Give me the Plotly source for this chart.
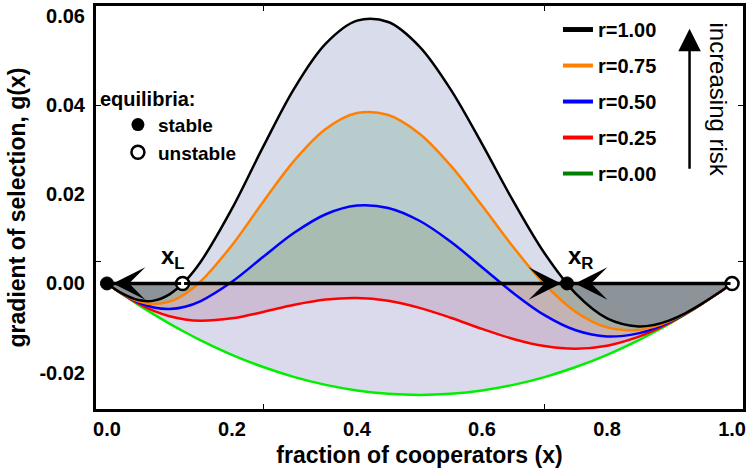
import plotly.graph_objects as go

# ---------------- data ----------------
x = [0.0, 0.025, 0.05, 0.075, 0.10, 0.125, 0.15, 0.20, 0.25, 0.30, 0.35, 0.40, 0.45, 0.50,
     0.55, 0.60, 0.65, 0.70, 0.75, 0.80, 0.85, 0.875, 0.90, 0.925, 0.95, 0.975, 1.0]

g_r100 = [0, -0.00230, -0.00373, -0.00385, -0.00244, 0.00051, 0.00487,
          0.01677, 0.03069, 0.04383, 0.05379, 0.05894, 0.05864, 0.05313, 0.04347, 0.03130,
          0.01846, 0.00678, -0.00227, -0.00781, -0.00964,
          -0.00930, -0.00827, -0.00669, -0.00470, -0.00243, 0]
g_r075 = [0, -0.00233, -0.00399, -0.00462, -0.00408, -0.00235, 0.00046,
          0.00858, 0.01833, 0.02762, 0.03465, 0.03821, 0.03779, 0.03359, 0.02642, 0.01747,
          0.00816, -0.00016, -0.00639, -0.00986, -0.01042,
          -0.00971, -0.00845, -0.00675, -0.00471, -0.00244, 0]
g_r050 = [0, -0.00237, -0.00424, -0.00539, -0.00572, -0.00521, -0.00394,
          0.00038, 0.00597, 0.01141, 0.01552, 0.01747, 0.01694, 0.01406, 0.00936, 0.00365,
          -0.00214, -0.00711, -0.01051, -0.01190, -0.01120,
          -0.01012, -0.00864, -0.00681, -0.00472, -0.00244, 0]
g_r025 = [0, -0.00240, -0.00450, -0.00617, -0.00736, -0.00808, -0.00835,
          -0.00781, -0.00639, -0.00479, -0.00362, -0.00326, -0.00390, -0.00547, -0.00769, -0.01018,
          -0.01245, -0.01405, -0.01463, -0.01395, -0.01197,
          -0.01053, -0.00882, -0.00688, -0.00474, -0.00244, 0]
g_r000 = [0, -0.00244, -0.00475, -0.00694, -0.00900, -0.01094, -0.01275,
          -0.01600, -0.01875, -0.02100, -0.02275, -0.02400, -0.02475, -0.02500, -0.02475, -0.02400,
          -0.02275, -0.02100, -0.01875, -0.01600, -0.01275,
          -0.01094, -0.00900, -0.00694, -0.00475, -0.00244, 0]

# zero crossings of each curve
cross_r100 = [0.121, 0.736]
cross_r075 = [0.146, 0.699]
cross_r050 = [0.196, 0.631]

risk_labels = ["r=1.00", "r=0.75", "r=0.50", "r=0.25", "r=0.00"]

x_left = 0.121    # x_L (unstable)
x_right = 0.736   # x_R (stable)
stable_x = [0.0, x_right]
unstable_x = [x_left, 1.0]

x_ticks = [0.0, 0.2, 0.4, 0.6, 0.8, 1.0]
x_ticktext = ["0.0", "0.2", "0.4", "0.6", "0.8", "1.0"]
y_ticks = [-0.02, 0.0, 0.02, 0.04, 0.06]
y_ticktext = ["-0.02", "0.00", "0.02", "0.04", "0.06"]

# ---------------- styles ----------------
curves = [
    # label, values, crossings, line colour, legend colour, fill above 0, fill below 0
    (risk_labels[0], g_r100, cross_r100, "#000000", "#000000", "rgb(216,220,235)", "rgb(140,148,153)"),
    (risk_labels[1], g_r075, cross_r075, "#ff8000", "#ff8000", "rgb(185,204,205)", "rgb(168,173,164)"),
    (risk_labels[2], g_r050, cross_r050, "#0000ff", "#0000ff", "rgb(168,188,178)", "rgb(196,178,180)"),
    (risk_labels[3], g_r025, [], "#ff0000", "#ff0000", None, "rgb(204,188,212)"),
    (risk_labels[4], g_r000, [], "#00ee00", "#008000", None, "rgb(218,218,236)"),
]


def half(xs, ys, cross, positive):
    pts = sorted(list(zip(xs, ys)) + [(c, 0.0) for c in cross])
    hx = [p[0] for p in pts]
    hy = [max(p[1], 0.0) if positive else min(p[1], 0.0) for p in pts]
    return hx, hy


fig = go.Figure()

# fills above zero: highest curve first
for lab, ys, cr, lc, lgc, fpos, fneg in curves:
    if fpos is None:
        continue
    hx, hy = half(x, ys, cr, True)
    fig.add_trace(go.Scatter(x=hx, y=hy, mode="lines", line=dict(width=0, shape="spline"),
                             fill="tozeroy", fillcolor=fpos, showlegend=False, hoverinfo="skip"))
# fills below zero: lowest curve first
for lab, ys, cr, lc, lgc, fpos, fneg in reversed(curves):
    hx, hy = half(x, ys, cr, False)
    fig.add_trace(go.Scatter(x=hx, y=hy, mode="lines", line=dict(width=0, shape="spline"),
                             fill="tozeroy", fillcolor=fneg, showlegend=False, hoverinfo="skip"))

# curves
for lab, ys, cr, lc, lgc, fpos, fneg in reversed(curves):
    fig.add_trace(go.Scatter(x=x, y=ys, mode="lines", name=lab,
                             line=dict(color=lc, width=2.5, shape="spline"), showlegend=False))

# zero line
fig.add_trace(go.Scatter(x=[x[0], x[-1]], y=[0, 0], mode="lines",
                         line=dict(color="black", width=3.5), showlegend=False, hoverinfo="skip"))

# equilibria markers
fig.add_trace(go.Scatter(x=stable_x, y=[0] * len(stable_x), mode="markers", name="stable",
                         marker=dict(size=13, color="black", line=dict(color="black", width=1)),
                         showlegend=False))
fig.add_trace(go.Scatter(x=unstable_x, y=[0] * len(unstable_x), mode="markers", name="unstable",
                         marker=dict(size=13, color="white", line=dict(color="black", width=2.5)),
                         showlegend=False))

# legend entries (risk)
for i, (lab, ys, cr, lc, lgc, fpos, fneg) in enumerate(curves):
    fig.add_trace(go.Scatter(x=[None], y=[None], mode="lines", name=lab, legendgroup=lab,
                             line=dict(color=lgc, width=5 if i == 0 else 4), showlegend=True,
                             legend="legend"))
# legend entries (equilibria)
fig.add_trace(go.Scatter(x=[None], y=[None], mode="markers", name="stable", legend="legend2",
                         marker=dict(size=13, color="black"), showlegend=True))
fig.add_trace(go.Scatter(x=[None], y=[None], mode="markers", name="unstable", legend="legend2",
                         marker=dict(size=13, color="white", line=dict(color="black", width=2.5)),
                         showlegend=True))

bold = dict(family="Liberation Sans, Arial, sans-serif", color="black", weight="bold")

annotations = []
# dynamics arrows along x axis
for tip, tail, so in [(stable_x[0], x_left, 6), (x_right, x_left, 6), (x_right, unstable_x[1], 8)]:
    annotations.append(dict(x=tip, y=0, ax=tail, ay=0, xref="x", yref="y", axref="x", ayref="y",
                            showarrow=True, arrowhead=3, arrowsize=1.8, arrowwidth=3,
                            arrowcolor="black", standoff=so, text=""))
annotations.append(dict(x=x_left, y=0, xref="x", yref="y", text="x<sub>L</sub>", showarrow=False,
                        xshift=-10, yshift=26, font=dict(size=24, **bold)))
annotations.append(dict(x=x_right, y=0, xref="x", yref="y", text="x<sub>R</sub>", showarrow=False,
                        xshift=13, yshift=26, font=dict(size=24, **bold)))
# increasing risk arrow + text
annotations.append(dict(x=0.932, y=0.0571, ax=0.932, ay=0.0254, xref="x", yref="y",
                        axref="x", ayref="y", showarrow=True, arrowhead=2, arrowsize=1.8,
                        arrowwidth=2.5, arrowcolor="black", text=""))
annotations.append(dict(x=0.978, y=0.0412, xref="x", yref="y", text="increasing risk",
                        showarrow=False, textangle=90,
                        font=dict(size=24, family="Liberation Sans, Arial, sans-serif", color="black")))

fig.update_layout(
    width=749, height=473,
    margin=dict(l=96, r=3, t=5, b=64),
    paper_bgcolor="white", plot_bgcolor="white",
    font=dict(family="Liberation Sans, Arial, sans-serif", color="black"),
    xaxis=dict(range=[-0.0175, 1.0175], showline=True, linewidth=3, linecolor="black",
               mirror="ticks", showgrid=False, zeroline=False, ticks="",
               tickvals=x_ticks, ticktext=x_ticktext, tickfont=dict(size=20, **bold),
               minor=dict(tickvals=[0.25, 0.7], ticks="inside", ticklen=5, tickwidth=1,
                          tickcolor="black", showgrid=False),
               title=dict(text="fraction of cooperators (x)", font=dict(size=23, **bold), standoff=8)),
    yaxis=dict(range=[-0.02816, 0.06223], showline=True, linewidth=3, linecolor="black",
               mirror="ticks", showgrid=False, zeroline=False, ticks="",
               tickvals=y_ticks, ticktext=y_ticktext, tickfont=dict(size=20, **bold),
               ticklabelstandoff=4,
               minor=dict(tickvals=[0.005, 0.04], ticks="inside", ticklen=5, tickwidth=1,
                          tickcolor="black", showgrid=False),
               title=dict(text="gradient of selection, g(x)", font=dict(size=23, **bold), standoff=8)),
    legend=dict(x=0.714, y=0.99, xanchor="left", yanchor="top", bgcolor="rgba(0,0,0,0)",
                font=dict(size=20, **bold), tracegroupgap=7, itemwidth=30),
    legend2=dict(x=0.003, y=0.817, xanchor="left", yanchor="top", bgcolor="rgba(0,0,0,0)",
                 font=dict(size=19, **bold), tracegroupgap=0, indentation=20,
                 title=dict(text="equilibria:", font=dict(size=20, **bold))),
    annotations=annotations,
    showlegend=True,
)

fig.write_html("out.html")
